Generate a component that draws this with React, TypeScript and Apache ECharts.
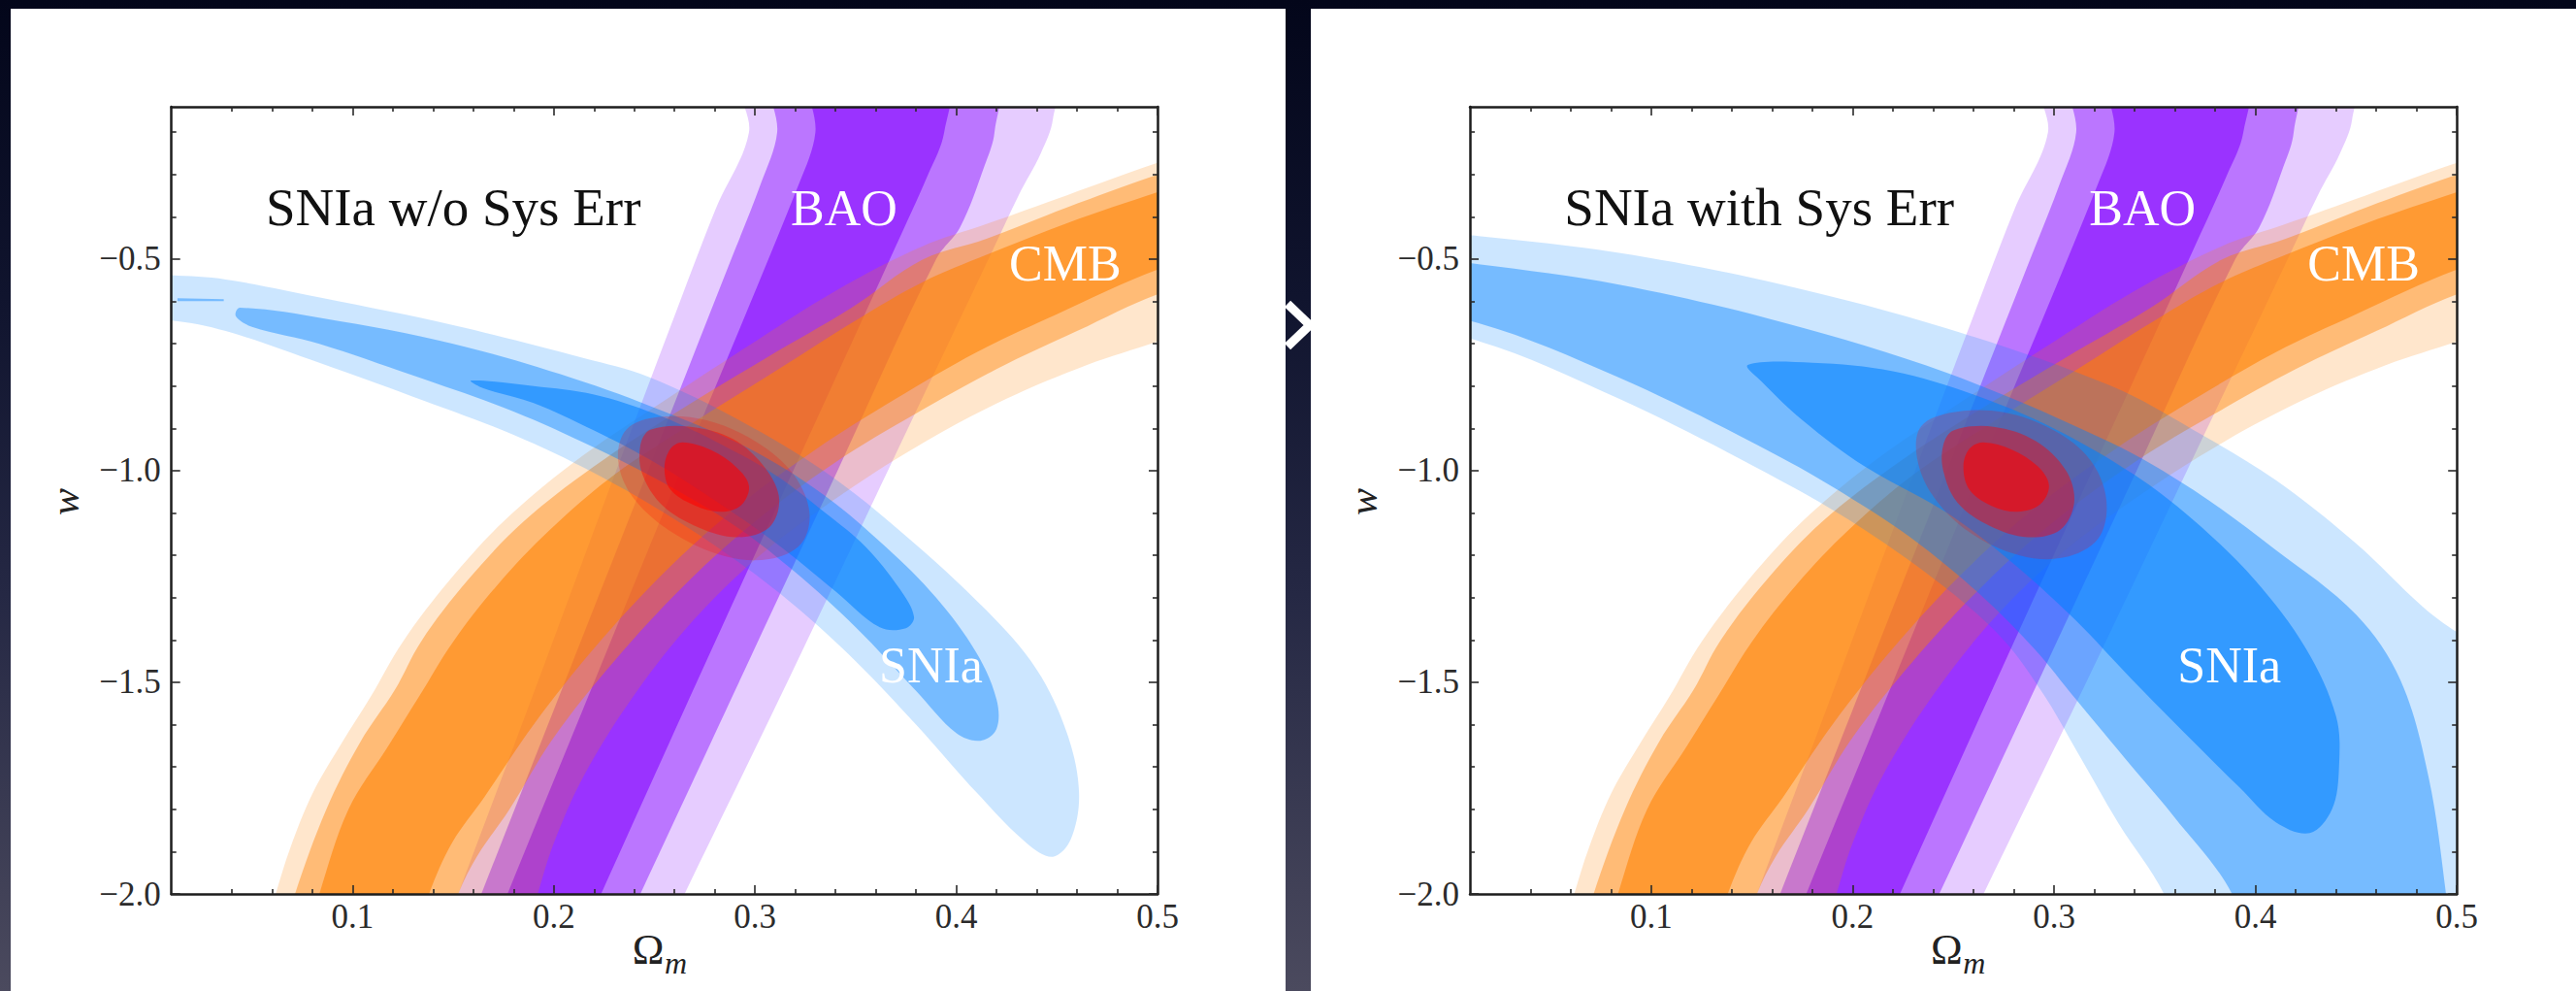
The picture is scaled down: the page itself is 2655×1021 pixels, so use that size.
import React, { useEffect, useRef } from "react";
import * as echarts from "echarts";

// ---------- axes ----------
const OMEGA_RANGE = [0.01, 0.5];
const W_RANGE = [-2.0, -0.14];
const OMEGA_MAJOR = [0.1, 0.2, 0.3, 0.4, 0.5];
const OMEGA_MINOR = [0.04, 0.06, 0.08, 0.12, 0.14, 0.16, 0.18, 0.22, 0.24, 0.26, 0.28, 0.32, 0.34, 0.36, 0.38, 0.42, 0.44, 0.46, 0.48];
const W_MAJOR = [-2.0, -1.5, -1.0, -0.5];
const W_MINOR = [-1.9, -1.8, -1.7, -1.6, -1.4, -1.3, -1.2, -1.1, -0.9, -0.8, -0.7, -0.6, -0.4, -0.3, -0.2];

// ---------- confidence regions, points are [Omega_m, w] ----------
// BAO (shared by both panels)
const BAO_3SIG = [[0.293, -0.05], [0.297, -0.2], [0.2805, -0.381], [0.26, -0.634], [0.231, -1.0], [0.192, -1.5], [0.1525, -2.0], [0.145, -2.1], [0.255, -2.1], [0.265, -2.0], [0.316, -1.5], [0.366, -1.0], [0.416, -0.5], [0.431, -0.349], [0.442, -0.25], [0.448, -0.17], [0.448, -0.05]];
const BAO_2SIG = [[0.309, -0.05], [0.311, -0.2], [0.303, -0.32], [0.2865, -0.52], [0.2468, -1.0], [0.2054, -1.5], [0.164, -2.0], [0.156, -2.1], [0.233, -2.1], [0.243, -2.0], [0.292, -1.5], [0.341, -1.0], [0.39, -0.5], [0.402, -0.424], [0.414, -0.28], [0.419, -0.2], [0.419, -0.05]];
const BAO_1SIG = [[0.328, -0.05], [0.33, -0.2], [0.322, -0.32], [0.263, -1.0], [0.22, -1.5], [0.177, -2.0], [0.169, -2.1], [0.214, -2.1], [0.2235, -2.0], [0.271, -1.5], [0.319, -1.0], [0.367, -0.5], [0.386, -0.3], [0.394, -0.2], [0.395, -0.05]];

// CMB (shared by both panels)
const CMB_3SIG = [[0.056, -2.1], [0.0618, -2.0], [0.069, -1.892], [0.08, -1.764], [0.093, -1.656], [0.109, -1.534], [0.125, -1.404], [0.148, -1.26], [0.175, -1.12], [0.21, -0.98], [0.25, -0.85], [0.295, -0.71], [0.34, -0.575], [0.383, -0.47], [0.415, -0.417], [0.455, -0.349], [0.4985, -0.275], [0.54, -0.21],
  [0.54, -0.63], [0.5, -0.695], [0.465, -0.75], [0.425, -0.83], [0.385, -0.93], [0.345, -1.05], [0.305, -1.19], [0.27, -1.35], [0.24, -1.53], [0.215, -1.72], [0.2, -1.88], [0.192, -2.0], [0.186, -2.1]];
const CMB_2SIG = [[0.066, -2.1], [0.0714, -2.0], [0.087, -1.8], [0.104, -1.64], [0.121, -1.518], [0.134, -1.404], [0.157, -1.26], [0.185, -1.12], [0.22, -0.99], [0.26, -0.865], [0.305, -0.735], [0.348, -0.615], [0.383, -0.502], [0.415, -0.452], [0.455, -0.378], [0.4985, -0.303], [0.54, -0.24],
  [0.54, -0.53], [0.5, -0.583], [0.46, -0.67], [0.42, -0.76], [0.38, -0.865], [0.34, -0.98], [0.3, -1.12], [0.265, -1.27], [0.23, -1.45], [0.2, -1.63], [0.178, -1.8], [0.162, -1.91], [0.1525, -2.0], [0.146, -2.1]];
const CMB_1SIG = [[0.078, -2.1], [0.0835, -2.0], [0.098, -1.8], [0.117, -1.656], [0.133, -1.534], [0.15, -1.404], [0.172, -1.27], [0.198, -1.14], [0.23, -1.01], [0.268, -0.89], [0.31, -0.765], [0.35, -0.645], [0.383, -0.555], [0.415, -0.49], [0.455, -0.415], [0.5, -0.342], [0.54, -0.28],
  [0.54, -0.47], [0.5, -0.525], [0.45, -0.63], [0.41, -0.72], [0.37, -0.83], [0.33, -0.95], [0.29, -1.09], [0.255, -1.24], [0.22, -1.42], [0.19, -1.6], [0.1655, -1.771], [0.1496, -1.878], [0.138, -2.0], [0.132, -2.1]];

// SNIa without systematic errors (left panel)
const SN_NOSYS_3SIG = [[-0.03, -0.53], [0.0095, -0.538], [0.037, -0.548], [0.085, -0.592], [0.15, -0.656], [0.215, -0.734], [0.247, -0.778], [0.29, -0.875], [0.334, -1.0], [0.374, -1.15], [0.415, -1.33], [0.44, -1.47], [0.455, -1.62], [0.461, -1.76], [0.457, -1.87], [0.448, -1.912],
  [0.435, -1.88], [0.41, -1.76], [0.38, -1.6], [0.35, -1.45], [0.32, -1.32], [0.29, -1.21], [0.255, -1.1], [0.22, -1.005], [0.18, -0.915], [0.13, -0.825], [0.0835, -0.745], [0.037, -0.67], [0.0095, -0.645], [-0.03, -0.64]];
const SN_NOSYS_2SIG = [[0.044, -0.615], [0.0854, -0.64], [0.15, -0.7], [0.215, -0.79], [0.26, -0.87], [0.3, -0.955], [0.335, -1.06], [0.365, -1.18], [0.39, -1.3], [0.41, -1.43], [0.42, -1.54], [0.42, -1.61], [0.412, -1.638],
  [0.4, -1.62], [0.38, -1.52], [0.35, -1.37], [0.32, -1.24], [0.29, -1.13], [0.255, -1.03], [0.22, -0.945], [0.18, -0.86], [0.13, -0.775], [0.0835, -0.7], [0.05, -0.66], [0.042, -0.635]];
const SN_NOSYS_2SIG_SLIVER = [[0.013, -0.5925], [0.036, -0.5945], [0.036, -0.5995], [0.013, -0.5995]];
const SN_NOSYS_1SIG = [[0.159, -0.787], [0.19, -0.8], [0.22, -0.82], [0.25, -0.865], [0.28, -0.93], [0.31, -1.01], [0.335, -1.1], [0.355, -1.18], [0.372, -1.28], [0.379, -1.345], [0.375, -1.372], [0.362, -1.37],
  [0.34, -1.285], [0.31, -1.17], [0.28, -1.07], [0.25, -0.98], [0.22, -0.905], [0.19, -0.84], [0.165, -0.805]];

// SNIa with systematic errors (right panel)
const SN_SYS_3SIG = [[-0.03, -0.425], [0.0095, -0.443], [0.084, -0.485], [0.165, -0.56], [0.247, -0.664], [0.328, -0.799], [0.369, -0.903], [0.41, -1.022], [0.45, -1.172], [0.483, -1.321], [0.5, -1.381], [0.53, -1.46], [0.53, -2.1],
  [0.36, -2.1], [0.3546, -2.0], [0.332, -1.833], [0.311, -1.66], [0.295, -1.53], [0.275, -1.4], [0.247, -1.28], [0.206, -1.14], [0.165, -1.025], [0.084, -0.83], [0.0095, -0.687], [-0.03, -0.68]];
const SN_SYS_2SIG = [[-0.03, -0.49], [0.0095, -0.509], [0.084, -0.56], [0.165, -0.649], [0.247, -0.769], [0.328, -0.933], [0.369, -1.045], [0.41, -1.187], [0.45, -1.34], [0.472, -1.495], [0.486, -1.725], [0.4946, -2.0], [0.496, -2.1],
  [0.39, -2.1], [0.3884, -2.0], [0.3595, -1.817], [0.3353, -1.68], [0.311, -1.541], [0.29, -1.42], [0.265, -1.3], [0.235, -1.18], [0.206, -1.085], [0.165, -0.97], [0.084, -0.78], [0.0095, -0.645], [-0.03, -0.635]];
const SN_SYS_1SIG = [[0.148, -0.75], [0.18, -0.745], [0.22, -0.765], [0.26, -0.82], [0.3, -0.9], [0.34, -1.01], [0.37, -1.12], [0.4, -1.26], [0.425, -1.42], [0.44, -1.58], [0.4415, -1.7], [0.438, -1.8], [0.427, -1.856],
  [0.41, -1.83], [0.392, -1.748], [0.3595, -1.594], [0.339, -1.495], [0.31, -1.35], [0.28, -1.22], [0.247, -1.1], [0.206, -0.99], [0.175, -0.88], [0.155, -0.79]];

// Combined constraints
const JOINT_NOSYS_3SIG = [[0.236, -0.903], [0.252, -0.873], [0.276, -0.881], [0.301, -0.933], [0.319, -1.008], [0.327, -1.097], [0.323, -1.172], [0.307, -1.209], [0.285, -1.202], [0.26, -1.149], [0.24, -1.067], [0.232, -0.978]];
const JOINT_NOSYS_2SIG = [[0.248, -0.903], [0.268, -0.896], [0.289, -0.925], [0.305, -0.993], [0.312, -1.067], [0.307, -1.134], [0.291, -1.157], [0.272, -1.134], [0.254, -1.082], [0.244, -1.008], [0.243, -0.94]];
const JOINT_NOSYS_1SIG = [[0.264, -0.933], [0.278, -0.951], [0.291, -0.993], [0.297, -1.037], [0.293, -1.082], [0.283, -1.097], [0.27, -1.082], [0.258, -1.045], [0.255, -0.993], [0.258, -0.948]];
const JOINT_SYS_3SIG = [[0.234, -0.895], [0.25, -0.862], [0.275, -0.862], [0.3, -0.905], [0.318, -0.975], [0.326, -1.07], [0.322, -1.16], [0.305, -1.205], [0.283, -1.2], [0.258, -1.145], [0.24, -1.06], [0.232, -0.97]];
const JOINT_SYS_2SIG = [[0.25, -0.905], [0.27, -0.896], [0.291, -0.93], [0.306, -1.0], [0.31, -1.075], [0.303, -1.14], [0.287, -1.157], [0.268, -1.13], [0.252, -1.075], [0.245, -1.0], [0.245, -0.94]];
const JOINT_SYS_1SIG = [[0.265, -0.933], [0.279, -0.95], [0.292, -0.99], [0.2975, -1.035], [0.293, -1.08], [0.282, -1.097], [0.269, -1.083], [0.258, -1.045], [0.255, -0.99], [0.258, -0.948]];

// ---------- styling ----------
const SERIF = '"Liberation Serif", "Times New Roman", serif';
const BAO_RGB = "128,0,255";
const CMB_RGB = "255,128,0";
const SN_RGB = "0,128,255";
const JOINT_RGB = "255,0,0";
// nested fills: 3σ, 2σ, 1σ (stacked opacities give 0.2 / 0.535 / 0.8)
const LEVEL_ALPHA = [0.2, 0.42, 0.57];

const PANEL_DX = 1338.3;
const GRIDS = [
  { left: 176.7, top: 110, width: 1016.3, height: 811 },
  { left: 176.7 + PANEL_DX, top: 110, width: 1017.2, height: 811 },
];

const fmtW = (v: number) => (v < 0 ? "\u2212" : "") + Math.abs(v).toFixed(1);
const fmtO = (v: number) => v.toFixed(1);

const AXIS_LINE = { show: true, onZero: false, lineStyle: { color: "#1d1d1d", width: 2.5 } };
const TICK_STYLE = { color: "#2a2a2a", width: 1.6 };

function xAxesFor(g: number) {
  const base = { type: "value", gridIndex: g, min: OMEGA_RANGE[0], max: OMEGA_RANGE[1], z: 10, splitLine: { show: false } };
  const major = { show: true, inside: true, length: 9, customValues: OMEGA_MAJOR, lineStyle: TICK_STYLE };
  const minor = { show: true, inside: true, length: 5, customValues: OMEGA_MINOR, lineStyle: TICK_STYLE };
  return [
    { ...base, position: "bottom", axisLine: AXIS_LINE, axisTick: major,
      axisLabel: { show: true, customValues: OMEGA_MAJOR, formatter: fmtO, margin: 6, color: "#2b2b2b", fontFamily: SERIF, fontSize: 35 } },
    { ...base, position: "bottom", axisLine: { show: false }, axisTick: minor, axisLabel: { show: false } },
    { ...base, position: "top", axisLine: AXIS_LINE, axisTick: major, axisLabel: { show: false } },
    { ...base, position: "top", axisLine: { show: false }, axisTick: minor, axisLabel: { show: false } },
  ];
}

function yAxesFor(g: number) {
  const base = { type: "value", gridIndex: g, min: W_RANGE[0], max: W_RANGE[1], z: 10, splitLine: { show: false } };
  const major = { show: true, inside: true, length: 9, customValues: W_MAJOR, lineStyle: TICK_STYLE };
  const minor = { show: true, inside: true, length: 5, customValues: W_MINOR, lineStyle: TICK_STYLE };
  return [
    { ...base, position: "left", axisLine: AXIS_LINE, axisTick: major,
      axisLabel: { show: true, customValues: W_MAJOR, formatter: fmtW, margin: 11, color: "#2b2b2b", fontFamily: SERIF, fontSize: 35 } },
    { ...base, position: "left", axisLine: { show: false }, axisTick: minor, axisLabel: { show: false } },
    { ...base, position: "right", axisLine: AXIS_LINE, axisTick: major, axisLabel: { show: false } },
    { ...base, position: "right", axisLine: { show: false }, axisTick: minor, axisLabel: { show: false } },
  ];
}

function region(name: string, pts: number[][], rgb: string, alpha: number, g: number, smooth = 0.35) {
  return {
    type: "custom",
    name,
    xAxisIndex: g * 4,
    yAxisIndex: g * 4,
    clip: true,
    silent: true,
    data: pts,
    renderItem: (params: any, api: any) => {
      if (params.dataIndex !== 0) return null;
      return {
        type: "polygon",
        shape: { points: pts.map((p) => api.coord(p)), smooth },
        style: { fill: `rgba(${rgb},${alpha})` },
      };
    },
  };
}

function panelSeries(g: number, sn: number[][][], snExtra: number[][][], joint: number[][][]) {
  const out: any[] = [];
  [BAO_3SIG, BAO_2SIG, BAO_1SIG].forEach((p, i) => out.push(region("BAO", p, BAO_RGB, LEVEL_ALPHA[i], g)));
  [CMB_3SIG, CMB_2SIG, CMB_1SIG].forEach((p, i) => out.push(region("CMB", p, CMB_RGB, LEVEL_ALPHA[i], g)));
  sn.forEach((p, i) => out.push(region("SNIa", p, SN_RGB, LEVEL_ALPHA[i], g)));
  snExtra.forEach((p) => out.push(region("SNIa", p, SN_RGB, LEVEL_ALPHA[1], g, 0)));
  joint.forEach((p, i) => out.push(region("Combined", p, JOINT_RGB, LEVEL_ALPHA[i], g)));
  return out;
}

function label(text: string, x: number, y: number, fill: string, size: number, extra: any = {}) {
  return {
    type: "text",
    x,
    y,
    z: 50,
    silent: true,
    ...extra,
    style: {
      text,
      fill,
      font: `${extra.italic ? "italic " : ""}${size}px ${SERIF}`,
      align: extra.align || "left",
      verticalAlign: "middle",
      textAlign: extra.align || "left",
      textVerticalAlign: "middle",
    },
  };
}

function panelTexts(dx: number, title: string) {
  return [
    label(title, 274 + dx, 213, "#111111", 55),
    label("BAO", 815 + dx, 214, "#ffffff", 52),
    label("CMB", 1040 + dx, 271, "#ffffff", 52),
    label("SNIa", 906 + dx, 685, "#ffffff", 52),
    label("w", 67 + dx, 517, "#222222", 42, { italic: true, align: "center", rotation: Math.PI / 2 }),
    label("\u03A9", 668 + dx, 978, "#222222", 44, { align: "center" }),
    label("m", 685 + dx, 992, "#222222", 32, { italic: true }),
  ];
}

export default function App() {
  const ref = useRef<HTMLDivElement>(null);

  useEffect(() => {
    if (!ref.current) return;
    const chart = echarts.init(ref.current, null, { renderer: "svg" });
    chart.setOption({
      animation: false,
      backgroundColor: "transparent",
      grid: GRIDS.map((g) => ({ ...g, show: false, containLabel: false })),
      xAxis: [...xAxesFor(0), ...xAxesFor(1)],
      yAxis: [...yAxesFor(0), ...yAxesFor(1)],
      series: [
        ...panelSeries(0, [SN_NOSYS_3SIG, SN_NOSYS_2SIG, SN_NOSYS_1SIG], [SN_NOSYS_2SIG_SLIVER], [JOINT_NOSYS_3SIG, JOINT_NOSYS_2SIG, JOINT_NOSYS_1SIG]),
        ...panelSeries(1, [SN_SYS_3SIG, SN_SYS_2SIG, SN_SYS_1SIG], [], [JOINT_SYS_3SIG, JOINT_SYS_2SIG, JOINT_SYS_1SIG]),
      ],
      graphic: {
        elements: [
          { type: "rect", z: -10, silent: true, shape: { x: 11, y: 9, width: 1314, height: 1012 }, style: { fill: "#ffffff" } },
          { type: "polyline", z: -9, silent: true, shape: { points: [[1327, 313], [1350, 335], [1327, 357]] }, style: { stroke: "#ffffff", lineWidth: 9, fill: null } },
          { type: "rect", z: -8, silent: true, shape: { x: 1351, y: 9, width: 1304, height: 1012 }, style: { fill: "#ffffff" } },
          ...panelTexts(0, "SNIa w/o Sys Err"),
          ...panelTexts(PANEL_DX, "SNIa with Sys Err"),
        ],
      },
    });
    return () => chart.dispose();
  }, []);

  return (
    <div
      ref={ref}
      style={{
        position: "fixed",
        left: 0,
        top: 0,
        width: 2655,
        height: 1021,
        background: "linear-gradient(to bottom, #03061a 0%, #10142e 30%, #252844 60%, #4b4a5e 100%)",
      }}
    />
  );
}
